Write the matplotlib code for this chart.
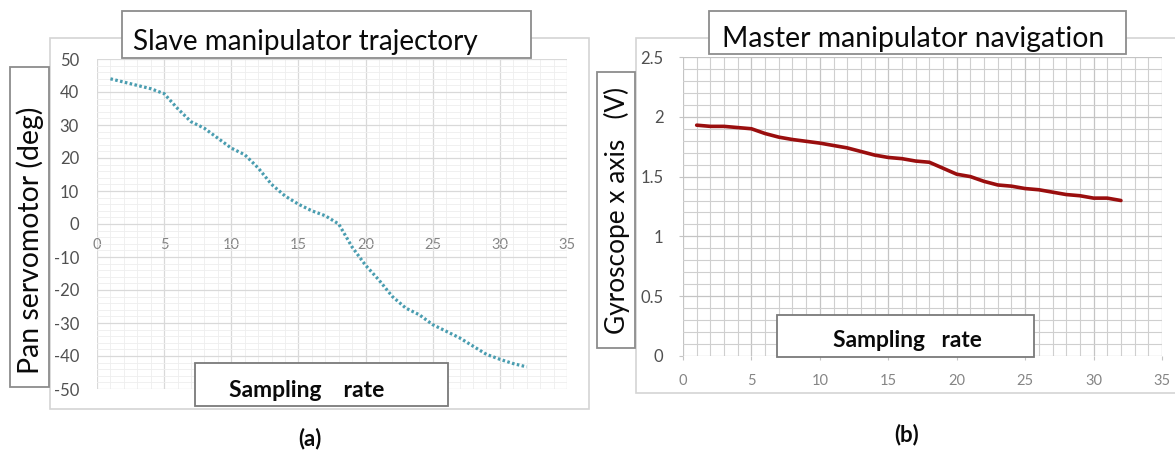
import matplotlib
matplotlib.use('Agg')
import matplotlib.pyplot as plt
from matplotlib.patches import Rectangle
from matplotlib.ticker import MultipleLocator, FuncFormatter

plt.rcParams['font.family'] = ['Lato', 'DejaVu Sans']
plt.rcParams['axes.unicode_minus'] = False

# ---------------- data ----------------
samples = list(range(1, 33))
pan_deg = [44, 43, 42, 41, 39.5, 35, 31, 29, 26, 23, 21, 17, 12, 8.5, 6, 4,
           2.5, 0, -7, -12.5, -17, -22, -25.5, -27.5, -30.5, -32.5, -34.5,
           -37, -39.5, -41, -42.3, -43.3]
gyro_v = [1.93, 1.92, 1.92, 1.91, 1.90, 1.86, 1.83, 1.81, 1.795, 1.78, 1.76,
          1.74, 1.71, 1.68, 1.66, 1.65, 1.63, 1.62, 1.57, 1.52, 1.50, 1.46,
          1.43, 1.42, 1.40, 1.39, 1.37, 1.35, 1.34, 1.32, 1.32, 1.30]
left_title = "Slave manipulator trajectory"
right_title = "Master manipulator navigation"
left_ylabel = "Pan servomotor (deg)"
right_ylabel = "Gyroscope x axis   (V)"
left_xlabel = "Sampling    rate"
right_xlabel = "Sampling   rate"
left_tag = "(a)"
right_tag = "(b)"

# ---------------- figure ----------------
W, H = 1175, 451
fig = plt.figure(figsize=(W / 100, H / 100), dpi=100)
fig.patch.set_facecolor('white')


def fx(x):
    return x / W


def fy(y):
    return 1 - y / H


def box(x0, y0, x1, y1, ec, lw, z):
    fig.add_artist(Rectangle((fx(x0), fy(y1)), fx(x1) - fx(x0), fy(y0) - fy(y1),
                             transform=fig.transFigure, facecolor='white',
                             edgecolor=ec, lw=lw, zorder=z, clip_on=False))


def axes_px(x0, y0, x1, y1):
    return fig.add_axes([fx(x0), fy(y1), fx(x1) - fx(x0), fy(y0) - fy(y1)])


# outer chart-area frames
box(50, 38, 589, 409, '#d4d4d4', 1.2, -5)
box(636, 38, 1185, 393, '#d4d4d4', 1.2, -5)

# ---- left chart ----
ax1 = axes_px(97, 59, 567, 389)
ax1.set_facecolor('white')
ax1.set_xlim(0, 35)
ax1.set_ylim(-50, 50)
ax1.xaxis.set_major_locator(MultipleLocator(5))
ax1.xaxis.set_minor_locator(MultipleLocator(1))
ax1.yaxis.set_major_locator(MultipleLocator(10))
ax1.yaxis.set_minor_locator(MultipleLocator(2))
ax1.grid(which='major', color='#d9d9d9', lw=0.9)
ax1.grid(which='minor', color='#eeeeee', lw=0.6)
ax1.set_axisbelow(True)
for s in ax1.spines.values():
    s.set_visible(False)
ax1.spines['bottom'].set_position(('data', 0))
ax1.tick_params(which='both', length=0)
ax1.tick_params(axis='x', labelsize=10.5, labelcolor='#858585', pad=10)
ax1.tick_params(axis='y', labelsize=12, labelcolor='#505050', pad=13)
ax1.plot(samples, pan_deg, color='#4a9db0', lw=2.3,
         linestyle=(0, (0.8, 0.75)), dash_capstyle='butt', zorder=3)

# ---- right chart ----
ax2 = axes_px(683, 57, 1162, 356)
ax2.set_facecolor('white')
ax2.set_xlim(0, 35)
ax2.set_ylim(0, 2.5)
ax2.xaxis.set_major_locator(MultipleLocator(5))
ax2.xaxis.set_minor_locator(MultipleLocator(1))
ax2.yaxis.set_major_locator(MultipleLocator(0.5))
ax2.yaxis.set_minor_locator(MultipleLocator(0.1))
ax2.yaxis.set_major_formatter(FuncFormatter(lambda v, p: f"{v:g}"))
ax2.grid(which='major', color='#c4c4c4', lw=0.9)
ax2.grid(which='minor', color='#cfcfcf', lw=0.8)
ax2.set_axisbelow(True)
for s in ax2.spines.values():
    s.set_visible(False)
ax2.tick_params(which='minor', length=0)
ax2.tick_params(which='major', length=3, color='#c4c4c4')
ax2.tick_params(axis='x', labelsize=10.5, labelcolor='#858585', pad=10)
ax2.tick_params(axis='y', labelsize=12, labelcolor='#505050', pad=11)
ax2.plot(samples, gyro_v, color='#9a0e0e', lw=2.6, solid_capstyle='round', zorder=3)

# ---- boxes over the charts ----
box(122, 11, 531, 58, '#8c8c8c', 1.3, 5)
box(709, 11, 1126, 54, '#8c8c8c', 1.3, 5)
box(10, 67, 49, 387, '#8c8c8c', 1.3, 5)
box(597, 72, 635, 348, '#8c8c8c', 1.3, 5)
box(195, 363, 448, 406, '#7a7a7a', 1.3, 5)
box(777, 315, 1034, 357, '#7a7a7a', 1.3, 5)

texts = []
t = fig.text(fx(305), fy(50), left_title, ha='center', va='baseline', fontsize=20, color='#0a0a0a', zorder=10)
texts.append((t, 345, False))
t = fig.text(fx(913), fy(47), right_title, ha='center', va='baseline', fontsize=20, color='#0a0a0a', zorder=10)
texts.append((t, 383, False))
t = fig.text(fx(30), fy(240), left_ylabel, ha='center', va='center', rotation=90, fontsize=20, color='#0a0a0a', zorder=10)
texts.append((t, 267, True))
t = fig.text(fx(617), fy(211), right_ylabel, ha='center', va='center', rotation=90, fontsize=20, color='#0a0a0a', zorder=10)
texts.append((t, 247, True))
t = fig.text(fx(307), fy(397), left_xlabel, ha='center', va='baseline', fontsize=13, fontweight='bold', color='#0a0a0a', zorder=10)
texts.append((t, 155, False))
t = fig.text(fx(907), fy(347), right_xlabel, ha='center', va='baseline', fontsize=13, fontweight='bold', color='#0a0a0a', zorder=10)
texts.append((t, 149, False))

fig.text(fx(310), fy(445), left_tag, ha='center', va='baseline', fontsize=16, fontweight='bold', color='#0a0a0a')
fig.text(fx(907), fy(441), right_tag, ha='center', va='baseline', fontsize=16, fontweight='bold', color='#0a0a0a')

fig.canvas.draw()
r = fig.canvas.get_renderer()
for _ in range(2):
    for t, target, vert in texts:
        bb = t.get_window_extent(r)
        w = bb.height if vert else bb.width
        t.set_fontsize(t.get_fontsize() * target / w)

fig.savefig('out.png', dpi=100, facecolor='white')
